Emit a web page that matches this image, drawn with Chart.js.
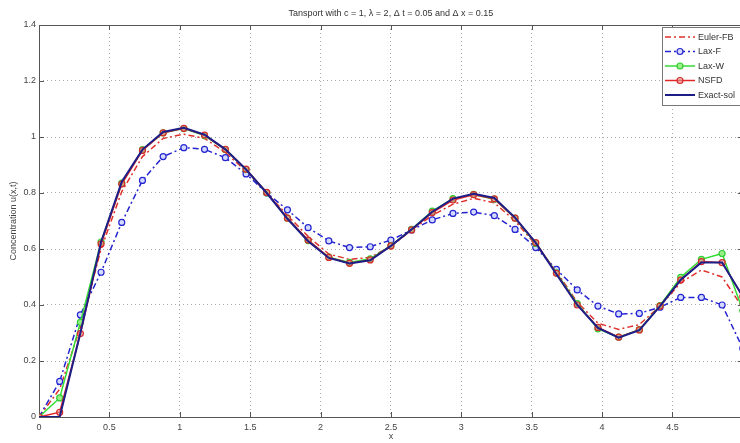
<!DOCTYPE html>
<html>
<head>
<meta charset="utf-8">
<script src="https://cdn.jsdelivr.net/npm/chart.js@4.4.1/dist/chart.umd.min.js"></script>
<style>
html, body { margin: 0; padding: 0; background: #fff; overflow: hidden; }
#caixa { position: relative; width: 748px; height: 443px; }
</style>
</head>
<body>
<div id="caixa"><canvas id="graficoTransporte"></canvas></div>
<script>
// posições da malha (35 pontos em [0, 5])
const xs = [0, 0.147, 0.294, 0.441, 0.588, 0.735, 0.882, 1.029, 1.176, 1.324, 1.471, 1.618,
    1.765, 1.912, 2.059, 2.206, 2.353, 2.5, 2.647, 2.794, 2.941, 3.088, 3.235, 3.382, 3.529,
    3.676, 3.824, 3.971, 4.118, 4.265, 4.412, 4.559, 4.706, 4.853, 5.0];

const eulerFB = [0, 0.10, 0.32, 0.60, 0.805, 0.93, 0.995, 1.01, 0.995, 0.945, 0.878, 0.80,
    0.72, 0.645, 0.582, 0.563, 0.57, 0.61, 0.668, 0.72, 0.76, 0.781, 0.765, 0.70, 0.615,
    0.52, 0.41, 0.335, 0.313, 0.33, 0.396, 0.48, 0.525, 0.50, 0.39];

const laxF = [0, 0.127, 0.365, 0.517, 0.695, 0.845, 0.93, 0.962, 0.956, 0.926, 0.868, 0.80,
    0.74, 0.676, 0.629, 0.605, 0.608, 0.632, 0.668, 0.704, 0.727, 0.732, 0.719, 0.67, 0.605,
    0.527, 0.454, 0.396, 0.368, 0.37, 0.392, 0.427, 0.427, 0.40, 0.245];

const laxW = [0, 0.068, 0.338, 0.625, 0.835, 0.955, 1.015, 1.03, 1.005, 0.955, 0.884, 0.80,
    0.71, 0.63, 0.571, 0.552, 0.565, 0.612, 0.67, 0.735, 0.78, 0.795, 0.778, 0.71, 0.62,
    0.515, 0.405, 0.315, 0.285, 0.312, 0.398, 0.499, 0.563, 0.584, 0.38];

const nsfd = [0, 0.017, 0.298, 0.618, 0.832, 0.952, 1.015, 1.031, 1.007, 0.956, 0.885, 0.802,
    0.71, 0.632, 0.57, 0.549, 0.561, 0.611, 0.668, 0.73, 0.775, 0.794, 0.779, 0.71, 0.623,
    0.513, 0.40, 0.32, 0.285, 0.311, 0.396, 0.489, 0.555, 0.551, 0.43];

const exata = [0, 0, 0.30, 0.625, 0.84, 0.955, 1.018, 1.033, 1.008, 0.956, 0.884, 0.80,
    0.708, 0.628, 0.568, 0.548, 0.56, 0.611, 0.67, 0.733, 0.78, 0.797, 0.782, 0.712, 0.622,
    0.51, 0.40, 0.318, 0.283, 0.31, 0.396, 0.49, 0.552, 0.552, 0.43];

const xTicks = [0, 0.5, 1, 1.5, 2, 2.5, 3, 3.5, 4, 4.5, 5];
const yTicks = [0, 0.2, 0.4, 0.6, 0.8, 1, 1.2, 1.4];

const titulo = 'Tansport with c = 1, \u03bb = 2, \u0394 t = 0.05 and \u0394 x = 0.15';
const fonte = "'Liberation Sans', Arial, sans-serif";

function pares(ys) {
    return xs.map((x, i) => ({ x: x, y: ys[i] }));
}

// caixa dos eixos, marcas internas e título
const moldura = {
    id: 'moldura',
    beforeDatasetsDraw(chart) {
        const { ctx, chartArea: a, scales } = chart;
        ctx.save();
        ctx.strokeStyle = '#555';
        ctx.lineWidth = 1;
        ctx.strokeRect(Math.round(a.left) + 0.5, Math.round(a.top) + 0.5,
            Math.round(a.right - a.left), Math.round(a.bottom - a.top));
        ctx.beginPath();
        xTicks.forEach(v => {
            const px = Math.round(scales.x.getPixelForValue(v)) + 0.5;
            ctx.moveTo(px, a.bottom); ctx.lineTo(px, a.bottom - 5);
            ctx.moveTo(px, a.top); ctx.lineTo(px, a.top + 5);
        });
        yTicks.forEach(v => {
            const py = Math.round(scales.y.getPixelForValue(v)) + 0.5;
            ctx.moveTo(a.left, py); ctx.lineTo(a.left + 5, py);
            ctx.moveTo(a.right, py); ctx.lineTo(a.right - 5, py);
        });
        ctx.stroke();
        ctx.fillStyle = '#333';
        ctx.font = '9px ' + fonte;
        ctx.textAlign = 'center';
        ctx.textBaseline = 'middle';
        ctx.fillText(titulo, (a.left + a.right) / 2, 14);
        ctx.restore();
    }
};

// legenda dentro da área do gráfico, no canto superior direito
const legendaInterna = {
    id: 'legendaInterna',
    afterDatasetsDraw(chart) {
        const { ctx, chartArea: a } = chart;
        const x0 = Math.round(a.right) - 81, y0 = Math.round(a.top) + 2;
        ctx.save();
        ctx.fillStyle = '#fff';
        ctx.fillRect(x0, y0, 90, 78);
        ctx.strokeStyle = '#777';
        ctx.lineWidth = 1;
        ctx.strokeRect(x0 + 0.5, y0 + 0.5, 90, 78);
        chart.data.datasets.forEach((ds, i) => {
            const y = y0 + 10 + i * 14.5;
            ctx.strokeStyle = ds.borderColor;
            ctx.lineWidth = ds.borderWidth;
            ctx.setLineDash(ds.borderDash || []);
            ctx.beginPath();
            ctx.moveTo(x0 + 3, y); ctx.lineTo(x0 + 33, y);
            ctx.stroke();
            ctx.setLineDash([]);
            if (ds.pointRadius > 0) {
                ctx.beginPath();
                ctx.arc(x0 + 18, y, ds.pointRadius, 0, Math.PI * 2);
                ctx.fillStyle = ds.pointBackgroundColor;
                ctx.fill();
                ctx.lineWidth = ds.pointBorderWidth;
                ctx.strokeStyle = ds.pointBorderColor;
                ctx.stroke();
            }
            ctx.fillStyle = '#333';
            ctx.font = '9px ' + fonte;
            ctx.textAlign = 'left';
            ctx.textBaseline = 'middle';
            ctx.fillText(ds.label, x0 + 36, y + 0.5);
        });
        ctx.restore();
    }
};

const ctx = document.getElementById('graficoTransporte').getContext('2d');
const grafico = new Chart(ctx, {
    type: 'line',
    data: {
        datasets: [
            {
                label: 'Euler-FB', data: pares(eulerFB), order: 4,
                borderColor: '#e0302a', borderWidth: 1.5, borderDash: [6, 3, 2, 3],
                pointRadius: 0
            },
            {
                label: 'Lax-F', data: pares(laxF), order: 3,
                borderColor: '#2424d0', borderWidth: 1.5, borderDash: [6, 3, 2, 3],
                pointRadius: 3, pointBorderWidth: 1.2,
                pointBorderColor: '#2424d0', pointBackgroundColor: '#d4daff'
            },
            {
                label: 'Lax-W', data: pares(laxW), order: 2,
                borderColor: '#33dd33', borderWidth: 1.5,
                pointRadius: 3, pointBorderWidth: 1.2,
                pointBorderColor: '#33cc33', pointBackgroundColor: '#99ee88'
            },
            {
                label: 'NSFD', data: pares(nsfd), order: 1,
                borderColor: '#e02828', borderWidth: 1.5,
                pointRadius: 3, pointBorderWidth: 1.2,
                pointBorderColor: '#d82a2a', pointBackgroundColor: 'rgba(230,140,140,0.6)'
            },
            {
                label: 'Exact-sol', data: pares(exata), order: 0,
                borderColor: '#1e1e88', borderWidth: 2,
                pointRadius: 0
            }
        ]
    },
    options: {
        responsive: true,
        maintainAspectRatio: false,
        animation: false,
        layout: { padding: { top: 25, right: 0, left: 0, bottom: 0 } },
        plugins: {
            legend: { display: false },
            tooltip: { enabled: false }
        },
        scales: {
            x: {
                type: 'linear', min: 0, max: 5,
                afterBuildTicks: s => { s.ticks = xTicks.map(v => ({ value: v })); },
                afterFit: s => { s.height = 26; s.paddingRight = 0; },
                grid: { color: '#a8a8a8', lineWidth: 1, drawTicks: false },
                border: { display: false, dash: [1, 3] },
                ticks: { color: '#444', font: { family: fonte, size: 9 }, padding: 5, maxRotation: 0,
                    callback: v => String(v) },
                title: { display: true, text: 'x', color: '#444', font: { family: fonte, size: 9 }, padding: { top: 0, bottom: 1 } }
            },
            y: {
                min: 0, max: 1.4,
                afterBuildTicks: s => { s.ticks = yTicks.map(v => ({ value: v })); },
                afterFit: s => { s.width = 39; },
                grid: { color: '#a8a8a8', lineWidth: 1, drawTicks: false },
                border: { display: false, dash: [1, 3] },
                ticks: { color: '#444', font: { family: fonte, size: 9 }, padding: 3,
                    callback: v => String(v) },
                title: { display: true, text: 'Concentration u(x,t)', color: '#444', font: { family: fonte, size: 9 }, padding: { top: 8, bottom: 0 } }
            }
        }
    },
    plugins: [moldura, legendaInterna]
});
</script>
</body>
</html>
